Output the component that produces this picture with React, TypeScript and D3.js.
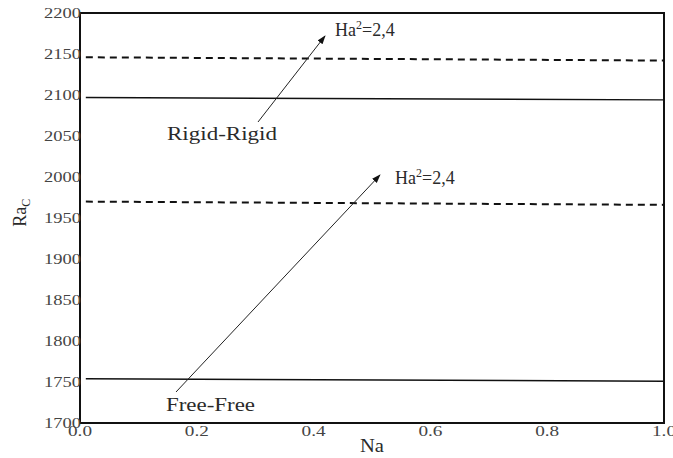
import React from 'react';
import * as d3 from 'd3';

// values (Ra_c vs Na)
const naPoints = [0.01, 1.0];
const rigidHa4 = [2146, 2142];
const rigidHa2 = [2097, 2094];
const freeHa4 = [1970, 1966];
const freeHa2 = [1754, 1751];
const yTicks = [1700, 1750, 1800, 1850, 1900, 1950, 2000, 2050, 2100, 2150, 2200];
const xTicks = [0.0, 0.2, 0.4, 0.6, 0.8, 1.0];

const W = 673, H = 458;
const margin = { top: 13, right: 9, bottom: 35, left: 80 };
const serif = { fontFamily: "'Liberation Serif', 'Times New Roman', Times, serif" };
const txt = '#2a2a2a';

const App = () => {
  const x = d3.scaleLinear().domain([0, 1]).range([margin.left, W - margin.right]);
  const y = d3.scaleLinear().domain([1700, 2200]).range([H - margin.bottom, margin.top]);

  const line = d3.line<number>()
    .x((_, i) => x(naPoints[i]))
    .y(d => y(d));

  const series = [
    { v: rigidHa4, dash: '7,5' },
    { v: rigidHa2, dash: null },
    { v: freeHa4, dash: '7,5' },
    { v: freeHa2, dash: null },
  ];

  return (
    <div style={{ position: 'absolute', left: 0, top: 0 }}>
      <svg width={W} height={H} style={{ display: 'block', background: '#fff' }}>
        <defs>
          <marker id="ah" viewBox="0 0 10 10" refX="9" refY="5" markerWidth="9" markerHeight="9" orient="auto">
            <path d="M0,1.5 L10,5 L0,8.5 z" fill="#111" />
          </marker>
        </defs>

        {series.map((s, i) => (
          <path key={i} d={line(s.v) || ''} fill="none" stroke="#111"
            strokeWidth={s.dash ? 2 : 1.4} strokeDasharray={s.dash || undefined} />
        ))}

        {/* frame */}
        <rect x={x(0)} y={y(2200)} width={x(1) - x(0)} height={y(1700) - y(2200)}
          fill="none" stroke="#111" strokeWidth={2} />

        {/* y tick labels */}
        {yTicks.map(t => (
          <text key={t} x={x(0) + 1} y={y(t) + 5} textAnchor="end" style={serif}
            fontSize={15} fill="#444" textLength={37} lengthAdjust="spacingAndGlyphs">{t}</text>
        ))}
        {/* x tick labels */}
        {xTicks.map(t => (
          <text key={t} x={x(t)} y={H - margin.bottom + 13} textAnchor="middle" style={serif}
            fontSize={15} fill="#444" textLength={24} lengthAdjust="spacingAndGlyphs">{d3.format('.1f')(t)}</text>
        ))}

        {/* axis titles */}
        <text x={372} y={H - 6} textAnchor="middle" style={serif}
          fontSize={18} fill={txt} textLength={24} lengthAdjust="spacingAndGlyphs">Na</text>
        <text transform={`translate(26,${y(1960) + 3}) rotate(-90)`} textAnchor="middle"
          style={serif} fontSize={18} fill={txt}>
          Ra<tspan fontSize={12} dy={4}>C</tspan>
        </text>

        {/* annotations */}
        <line x1={258} y1={122} x2={325} y2={36} stroke="#222" strokeWidth={1} markerEnd="url(#ah)" />
        <line x1={176} y1={392} x2={380} y2={175} stroke="#222" strokeWidth={1} markerEnd="url(#ah)" />

        <text x={335} y={36} style={serif} fontSize={18} fill={txt}>
          Ha<tspan fontSize={12} dy={-7}>2</tspan><tspan dy={7}>=2,4</tspan>
        </text>
        <text x={395} y={184} style={serif} fontSize={18} fill={txt}>
          Ha<tspan fontSize={12} dy={-7}>2</tspan><tspan dy={7}>=2,4</tspan>
        </text>
        <text x={167} y={140} style={serif} fontSize={18} fill={txt}
          textLength={110} lengthAdjust="spacingAndGlyphs">Rigid-Rigid</text>
        <text x={166} y={411} style={serif} fontSize={18} fill={txt}
          textLength={89} lengthAdjust="spacingAndGlyphs">Free-Free</text>
      </svg>
    </div>
  );
};

export default App;
